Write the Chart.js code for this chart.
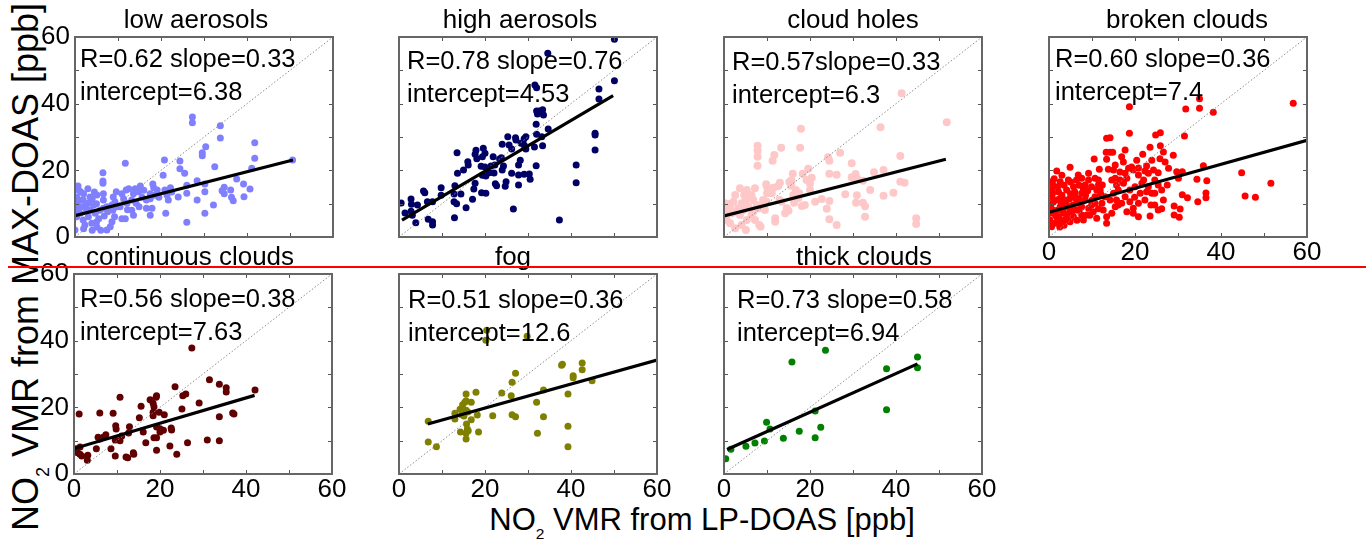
<!DOCTYPE html>
<html>
<head>
<meta charset="utf-8">
<script src="https://cdn.jsdelivr.net/npm/chart.js@4.4.1/dist/chart.umd.min.js"></script>
<style>
  body { margin: 0; background: #fff; width: 1370px; height: 548px; overflow: hidden; position: relative;
         font-family: "Liberation Sans", Arial, sans-serif; }
  canvas { position: absolute; }
  .axlab { position: absolute; white-space: nowrap; line-height: 1; color: #000; }
  .axlab .sub { position: relative; font-size: 0.5em; }
  #ylab { left: 26px; top: 267px; font-size: 36px; transform: translate(-50%, -50%) rotate(-90deg); }
  #ylab .sub { top: 11px; }
  #xlab { left: 702px; top: 504px; font-size: 31px; transform: translateX(-50%); }
  #xlab .sub { top: 9px; }
  #redline { position: absolute; left: 8px; top: 266px; width: 1358px; height: 2px; background: #f00; z-index: 5; }
</style>
</head>
<body>
<div id="ylab" class="axlab">NO<span class="sub">2</span> VMR from MAX-DOAS [ppb]</div>
<div id="xlab" class="axlab">NO<span class="sub">2</span> VMR from LP-DOAS [ppb]</div>
<div id="redline"></div>
<script>
// scatter points [LP-DOAS, MAX-DOAS] in ppb
const lowAerosols = [[27.3,36.0],[27.3,34.3],[33.8,33.4],[33.8,29.7],[41.8,28.3],[41.8,23.6],[50.6,23.1],[30.4,27.1],[29.6,25.3],[29.6,24.4],[32.5,21.1],[24.4,22.8],[24.4,20.5],[25.5,19.1],[20.8,23.1],[20.5,18.5],[11.7,22.1],[6.5,19.3],[6.5,16.8],[6.5,16.1],[0.7,15.3],[1.3,13.6],[5.1,12.6],[28.4,16.9],[30.2,15.9],[30.2,13.6],[26.0,15.5],[26.0,13.1],[28.4,11.1],[30.2,7.1],[26.0,4.4],[32.2,9.6],[34.7,14.9],[34.2,13.9],[34.7,13.0],[36.2,14.1],[36.4,11.9],[36.8,10.9],[37.6,17.4],[39.2,15.9],[39.3,12.1],[40.7,14.4],[41.1,20.6],[22.2,14.8],[21.4,12.6],[21.7,11.1],[21.1,7.1],[20.9,14.1],[19.1,14.1],[19.5,11.9],[18.1,15.9],[18.3,14.8],[17.5,13.0],[17.5,11.5],[16.6,11.1],[17.9,8.6],[15.2,15.3],[14.8,13.6],[15.6,11.9],[13.6,13.0],[13.2,11.1],[14.2,10.1],[14.9,9.1],[16.6,8.6],[17.5,6.5],[13.2,8.0],[13.6,6.5],[11.9,14.1],[10.9,13.0],[11.3,11.5],[12.1,10.1],[12.2,8.2],[11.7,5.5],[9.6,13.6],[8.9,12.0],[9.3,10.6],[9.7,9.1],[8.8,8.0],[9.2,6.1],[8.6,4.6],[8.2,3.1],[7.4,2.1],[6.6,13.0],[6.6,11.1],[6.6,8.6],[6.8,6.3],[5.8,8.0],[5.5,5.5],[5.1,3.0],[4.3,9.5],[4.7,7.1],[3.9,4.1],[3.5,12.0],[3.1,10.1],[2.7,8.0],[3.1,6.1],[1.9,11.1],[1.5,9.1],[1.2,7.1],[1.9,5.1],[2.3,3.6],[0.4,12.0],[0.4,10.1],[0.2,8.0],[0.4,6.1],[0.0,2.1],[0.8,14.1],[3.5,8.0],[7.4,9.1],[7.6,7.6],[10.5,9.1],[10.9,5.5],[8.6,9.6],[2.0,13.0],[1.0,11.0],[2.5,9.5],[4.0,11.5],[5.0,10.0],[0.5,9.0],[4.5,13.5],[3.0,14.5],[2.0,2.5],[4.0,2.0],[6.0,2.0],[5.0,4.5],[12.5,14.5],[14.0,14.5],[16.0,14.0],[18.5,12.5],[22.5,13.5],[24.0,12.0]];
const highAerosols = [[50.1,59.3],[34.6,55.1],[50.1,46.9],[46.5,44.4],[46.5,41.4],[31.6,45.6],[32.0,44.8],[32.0,37.8],[32.6,37.8],[33.4,38.2],[32.2,36.9],[33.6,36.6],[31.9,33.8],[34.7,32.4],[32.0,30.8],[33.2,30.1],[33.4,27.4],[31.5,27.0],[25.3,30.1],[27.1,29.8],[29.1,29.5],[29.5,30.1],[24.0,27.8],[25.6,27.6],[26.2,26.4],[29.1,27.6],[29.5,26.4],[27.2,29.1],[28.4,28.1],[45.6,31.1],[45.6,30.6],[45.6,26.1],[41.2,21.6],[41.2,16.3],[37.3,5.1],[30.5,17.3],[31.9,21.4],[27.8,21.6],[28.2,23.0],[27.8,18.6],[27.8,15.6],[26.2,19.1],[26.6,8.4],[24.9,16.6],[24.7,15.2],[24.0,20.1],[24.3,21.3],[23.8,23.8],[22.3,21.6],[22.1,19.2],[22.4,16.0],[22.7,15.4],[21.9,24.1],[23.4,23.4],[21.4,21.3],[21.0,19.3],[19.6,26.6],[20.0,25.1],[19.4,24.1],[17.9,26.0],[17.7,24.8],[18.1,23.5],[20.0,21.0],[19.1,21.2],[19.4,18.5],[20.2,18.3],[17.7,16.1],[17.4,14.4],[19.2,13.3],[20.2,13.1],[16.0,22.6],[16.1,21.6],[15.0,20.1],[13.5,25.3],[13.6,19.1],[13.0,15.4],[12.8,12.9],[12.8,10.6],[13.4,10.0],[14.4,12.9],[17.1,11.3],[15.6,8.8],[12.9,5.8],[9.8,14.8],[9.8,12.5],[7.8,10.6],[5.7,13.8],[6.0,13.3],[6.6,10.6],[6.8,5.3],[7.8,4.6],[7.8,3.6],[4.3,9.6],[3.9,4.3],[2.8,11.4],[2.9,9.8],[2.8,7.7],[3.1,6.5],[1.4,7.2],[0.5,10.2],[30.3,18.9],[29.1,18.8]];
const cloudHoles = [[51.8,34.4],[36.4,32.9],[17.9,32.5],[41.3,43.1],[17.7,26.8],[7.8,27.4],[7.8,25.9],[7.8,24.1],[7.8,21.4],[13.3,26.8],[11.7,24.6],[11.3,22.9],[27.0,25.3],[24.2,23.9],[24.5,22.9],[29.7,22.1],[41.0,24.3],[34.9,19.4],[37.1,20.1],[30.6,18.9],[29.7,17.9],[30.9,17.6],[32.3,16.9],[24.5,19.0],[26.2,18.7],[41.0,16.6],[42.0,16.3],[34.0,14.1],[37.1,12.4],[39.4,13.3],[28.2,12.8],[30.9,12.5],[30.7,10.3],[32.3,10.3],[32.8,9.2],[32.8,6.1],[23.9,8.5],[24.5,5.3],[26.2,3.6],[44.7,5.6],[44.7,3.9],[22.7,11.4],[24.5,10.8],[21.2,10.6],[18.8,9.6],[18.1,9.3],[16.3,10.3],[20.0,14.1],[19.2,17.1],[20.4,17.8],[20.0,16.0],[18.3,19.0],[19.6,20.5],[16.0,19.0],[15.7,17.0],[15.6,15.4],[15.2,16.5],[16.7,14.1],[17.5,13.1],[17.3,11.6],[16.1,12.6],[13.0,16.3],[12.6,15.3],[12.9,11.1],[13.4,10.6],[14.6,8.6],[15.0,7.9],[14.2,7.1],[11.9,5.6],[11.9,4.6],[9.8,15.8],[10.0,15.0],[11.5,14.8],[11.1,13.1],[9.1,11.1],[9.3,9.6],[9.9,10.6],[9.5,8.1],[7.2,14.6],[6.4,12.6],[6.8,11.1],[7.6,9.6],[8.2,8.6],[6.4,6.6],[7.2,5.1],[8.2,3.6],[8.5,3.1],[5.3,14.1],[4.7,12.6],[5.1,11.1],[4.1,10.1],[5.7,9.1],[4.5,8.1],[3.7,6.6],[5.3,5.1],[5.1,2.1],[4.1,3.6],[2.6,12.6],[2.2,10.6],[3.3,8.6],[2.8,7.6],[1.4,9.1],[1.8,7.1],[0.6,5.1],[1.4,4.1],[2.6,2.6],[0.2,10.1],[0.2,8.1],[0.4,6.3],[1.3,9.9],[8.4,9.1],[10.0,13.1],[6.8,7.6],[3.7,14.6]];
const brokenClouds = [[56.8,40.1],[18.7,39.1],[31.8,38.4],[35.0,38.6],[38.2,37.4],[35.0,41.5],[31.5,30.3],[18.7,31.1],[13.4,29.6],[14.2,29.8],[24.8,30.6],[25.9,31.3],[25.9,27.4],[23.5,26.9],[17.7,26.1],[13.3,25.4],[14.2,25.4],[14.8,25.4],[21.8,24.8],[26.6,25.5],[28.9,24.5],[10.5,23.4],[13.4,23.3],[17.3,22.5],[20.4,23.0],[23.9,23.0],[25.8,23.5],[27.0,22.5],[35.9,21.4],[4.9,20.9],[1.8,19.8],[11.7,20.3],[13.8,20.3],[15.0,20.1],[16.5,19.5],[19.2,21.0],[20.8,20.7],[22.3,19.8],[24.3,20.1],[25.4,19.3],[27.8,20.6],[29.7,19.6],[31.0,19.6],[44.8,19.3],[34.4,17.3],[36.7,16.9],[51.6,16.1],[45.6,12.3],[48.0,11.9],[34.6,10.6],[36.5,11.8],[36.5,13.2],[31.0,12.7],[32.2,11.8],[29.1,9.3],[30.5,8.4],[29.1,6.6],[30.3,5.9],[26.6,11.1],[26.2,8.5],[27.5,15.6],[23.5,6.3],[23.7,9.6],[23.9,13.1],[23.1,15.1],[21.6,16.1],[22.3,11.1],[19.6,8.6],[19.9,11.9],[20.0,15.1],[18.8,14.1],[20.8,10.1],[21.2,13.1],[17.7,12.1],[16.9,10.1],[18.1,7.6],[16.1,14.1],[17.3,16.1],[15.0,13.1],[14.2,11.1],[15.4,9.1],[14.6,7.1],[15.7,15.6],[14.6,17.1],[13.4,4.1],[13.4,6.1],[12.6,8.1],[12.3,10.1],[13.0,12.1],[11.9,14.1],[11.5,17.1],[12.4,15.6],[11.1,14.1],[10.7,12.1],[9.9,9.6],[10.3,7.6],[11.1,5.6],[9.0,13.9],[8.4,11.1],[7.6,9.1],[8.8,6.6],[8.0,5.1],[6.8,18.6],[6.4,17.1],[5.7,15.1],[6.1,12.1],[6.8,10.1],[6.4,8.1],[5.7,6.1],[4.9,4.6],[4.5,17.1],[4.1,14.1],[3.7,11.1],[4.5,9.1],[3.3,7.1],[4.1,5.6],[2.9,4.1],[2.6,16.6],[2.2,13.6],[1.8,11.1],[2.6,9.1],[1.4,7.6],[2.2,6.1],[1.4,4.1],[0.6,3.1],[0.6,14.1],[0.6,12.1],[0.4,9.6],[0.2,7.1],[0.2,5.1],[1.0,15.6],[9.2,19.1],[7.6,17.6],[17.7,19.1],[18.1,17.6],[16.5,17.1],[17.3,16.6],[11.5,15.6],[15.4,17.6],[10.7,17.6],[9.2,17.1],[8.4,15.6],[9.9,15.1],[7.6,13.1],[22.0,17.1],[25.4,15.6],[22.7,13.6],[24.6,13.1],[26.2,14.1],[19.6,20.1],[20.8,18.6],[18.5,20.6],[3.7,5.1],[2.6,5.1],[5.3,7.6],[7.6,6.6],[9.2,8.6],[3.3,8.6],[6.4,11.1],[10.7,10.1],[30.1,17.6],[15.7,11.1],[18.8,10.6],[16.1,9.6],[19.6,7.1],[20.8,6.1],[24.6,9.6],[25.4,8.1],[16.9,24.1],[15.4,21.6],[22.7,21.3],[24.6,17.1],[23.1,19.1],[1.0,10.5],[2.0,8.0],[3.0,12.5],[4.0,10.0],[5.0,13.0],[1.5,6.5],[3.5,3.5],[5.5,9.5],[7.0,11.5],[8.0,14.5],[0.5,8.5],[2.5,11.5],[1.2,17.5],[3.0,18.5],[0.4,16.5],[2.0,15.0],[3.5,15.5],[5.0,16.5],[7.0,15.5],[0.8,13.0],[2.8,10.5],[4.8,11.5],[6.0,13.5],[8.5,12.5],[1.0,8.0],[3.0,9.5],[5.0,8.0],[7.0,8.0],[1.8,6.0],[4.2,7.0],[6.5,5.0],[0.5,4.0],[2.5,3.0],[10.0,11.0],[12.0,13.0],[9.5,6.5],[11.5,8.5]];
const continuousClouds = [[27.4,37.8],[31.5,28.3],[33.8,26.9],[35.4,25.9],[35.4,24.6],[42.1,25.2],[23.5,26.2],[25.3,23.5],[26.0,24.0],[29.1,21.3],[25.1,19.5],[33.8,17.2],[36.9,18.3],[37.2,18.0],[31.0,10.2],[33.8,10.0],[26.4,9.4],[23.9,5.9],[22.6,13.8],[22.7,13.2],[22.3,8.4],[19.1,23.0],[19.2,23.5],[17.7,22.3],[18.4,21.2],[18.6,20.2],[19.8,18.5],[21.0,17.8],[18.4,18.5],[18.4,17.5],[15.6,20.3],[15.2,16.9],[19.2,14.1],[20.0,13.6],[20.8,13.1],[20.0,12.6],[19.2,10.9],[19.2,7.1],[18.6,10.9],[16.1,12.6],[16.7,9.4],[12.9,14.2],[12.7,12.3],[10.7,23.0],[9.1,18.2],[6.0,18.3],[1.2,18.0],[9.7,14.5],[9.8,13.5],[9.6,10.2],[10.7,10.0],[11.1,11.4],[9.6,5.4],[8.6,7.6],[7.4,11.8],[5.6,11.0],[6.8,11.0],[6.0,10.5],[5.2,7.6],[12.1,5.1],[12.5,4.9],[13.8,6.4],[13.9,5.9],[3.2,5.6],[3.1,4.1],[1.8,5.4],[0.8,6.4],[1.4,5.9],[0.5,7.6],[1.4,8.1],[0.3,6.9]];
const fog = [[20.4,43.1],[20.2,40.1],[29.8,41.3],[37.8,32.6],[38.0,32.9],[42.6,33.3],[42.6,31.3],[40.5,29.5],[40.5,28.9],[44.9,28.0],[27.1,30.2],[26.3,27.5],[33.6,25.2],[39.3,24.0],[23.9,24.3],[26.1,23.5],[32.0,21.5],[26.3,17.8],[27.1,17.2],[33.6,17.2],[21.8,17.5],[39.3,14.3],[32.2,12.2],[39.3,8.2],[17.9,24.5],[15.6,24.0],[15.6,22.0],[15.3,21.5],[16.8,21.5],[14.8,20.8],[14.2,19.4],[15.6,19.1],[16.0,18.6],[13.0,18.2],[13.0,16.5],[14.6,17.8],[15.1,17.4],[18.2,17.7],[16.8,16.3],[15.7,15.0],[15.9,13.5],[16.1,13.0],[15.6,12.2],[14.3,12.6],[18.5,12.6],[15.6,10.5],[6.8,15.8],[6.8,9.6],[8.7,8.2]];
const thickClouds = [[23.6,37.1],[15.8,33.6],[45.0,35.1],[45.0,31.9],[37.8,31.6],[37.8,19.3],[21.2,18.9],[9.9,15.5],[10.7,13.5],[22.5,14.0],[17.5,12.8],[21.2,10.9],[13.8,10.7],[9.4,9.9],[7.2,9.3],[5.1,8.3],[1.6,7.4],[0.4,4.6]];

const titles = ['low aerosols', 'high aerosols', 'cloud holes', 'broken clouds', 'continuous clouds', 'fog', 'thick clouds'];
const series = [lowAerosols, highAerosols, cloudHoles, brokenClouds, continuousClouds, fog, thickClouds];
const colors = ['#8080ff', '#000066', '#ffc8c8', '#ff0000', '#600000', '#808000', '#008000'];
const slopes = [0.33, 0.76, 0.33, 0.36, 0.38, 0.36, 0.58];
const intercepts = [6.38, 4.53, 6.3, 7.4, 7.63, 12.6, 6.94];
const fitFrom = [0, 0.7, 0, 0, 0, 6.7, 0.7];
const fitTo = [50.7, 49.8, 51.6, 60, 42, 60, 45];
const statLine1 = ['R=0.62 slope=0.33', 'R=0.78 slope=0.76', 'R=0.57slope=0.33', 'R=0.60 slope=0.36', 'R=0.56 slope=0.38', 'R=0.51 slope=0.36', 'R=0.73 slope=0.58'];
const statLine2 = ['intercept=6.38', 'intercept=4.53', 'intercept=6.3', 'intercept=7.4', 'intercept=7.63', 'intercept=12.6', 'intercept=6.94'];
const axisTicks = [0, 20, 40, 60];

// layout: plot area corner of each panel, text nudges
const plotLeft = [75, 399, 724, 1049, 74, 399, 724];
const plotTop = [37, 37, 37, 37, 274, 274, 274];
const showYTicks = [true, false, false, false, true, false, false];
const showXTicks = [false, false, false, true, true, true, true];
const textDx = [5, 8, 8, 6, 6, 9, 13];
const textDy = [30, 32, 33, 30, 33, 34, 34];
const titleDx = [-8, -8, 0, 9, -13, -15, 11];

const FONT = '"Liberation Sans", Arial, sans-serif';
Chart.defaults.font.family = FONT;
Chart.defaults.color = '#000';

const panelDecor = {
  id: 'panelDecor',
  afterDatasetsDraw(chart, args, o) {
    const { ctx, chartArea: a, scales } = chart;
    ctx.save();
    // inward ticks on all four sides
    ctx.strokeStyle = '#555';
    ctx.lineWidth = 1;
    ctx.beginPath();
    for (let v = 10; v < 60; v += 10) {
      const px = Math.round(scales.x.getPixelForValue(v)) + 0.5;
      const py = Math.round(scales.y.getPixelForValue(v)) + 0.5;
      ctx.moveTo(px, a.bottom); ctx.lineTo(px, a.bottom - 4);
      ctx.moveTo(px, a.top); ctx.lineTo(px, a.top + 4);
      ctx.moveTo(a.left, py); ctx.lineTo(a.left + 4, py);
      ctx.moveTo(a.right, py); ctx.lineTo(a.right - 4, py);
    }
    ctx.stroke();
    ctx.strokeStyle = '#666';
    ctx.lineWidth = 2;
    ctx.strokeRect(a.left, a.top, a.right - a.left, a.bottom - a.top);

    ctx.fillStyle = '#000';
    ctx.textBaseline = 'alphabetic';
    ctx.font = '25.5px ' + FONT;
    ctx.textAlign = 'left';
    ctx.fillText(o.line1, a.left + o.dx, a.top + o.dy);
    ctx.fillText(o.line2, a.left + o.dx, a.top + o.dy + 33);
    ctx.font = '26px ' + FONT;
    ctx.textAlign = 'center';
    ctx.fillText(o.title, (a.left + a.right) / 2 + o.tdx, a.top - 9);
    ctx.restore();
  }
};

const PAD_L = 60, PAD_T = 36, PAD_R = 20, PAD_B = 40, PW = 258, PH = 200;

series.forEach((pts, i) => {
  const cv = document.createElement('canvas');
  cv.width = PAD_L + PW + PAD_R;
  cv.height = PAD_T + PH + PAD_B;
  cv.style.left = (plotLeft[i] - PAD_L) + 'px';
  cv.style.top = (plotTop[i] - PAD_T) + 'px';
  document.body.appendChild(cv);

  const fit = [fitFrom[i], fitTo[i]].map(x => ({ x: x, y: intercepts[i] + slopes[i] * x }));

  new Chart(cv, {
    type: 'scatter',
    data: {
      datasets: [
        { data: fit, showLine: true, borderColor: '#000', borderWidth: 3.2, pointRadius: 0, order: 0 },
        { data: [{ x: 0, y: 0 }, { x: 60, y: 60 }], showLine: true, borderColor: '#8c8c8c',
          borderWidth: 1, borderDash: [1.5, 2], pointRadius: 0, order: 1 },
        { data: pts.map(p => ({ x: p[0], y: p[1] })), backgroundColor: colors[i], borderWidth: 0,
          pointRadius: i === 2 ? 4 : 3.5, order: 2 }
      ]
    },
    options: {
      responsive: false,
      animation: false,
      devicePixelRatio: 1,
      events: [],
      layout: { padding: { left: 0, top: PAD_T, right: PAD_R, bottom: 0 } },
      plugins: {
        legend: { display: false },
        tooltip: { enabled: false },
        panelDecor: { title: titles[i], line1: statLine1[i], line2: statLine2[i],
                      dx: textDx[i], dy: textDy[i], tdx: titleDx[i] }
      },
      scales: {
        x: {
          type: 'linear', min: 0, max: 60,
          afterBuildTicks: s => { s.ticks = axisTicks.map(v => ({ value: v })); },
          ticks: { display: showXTicks[i], font: { size: 26 }, color: '#000', padding: 0, maxRotation: 0 },
          grid: { display: false, drawTicks: false },
          border: { display: false },
          afterFit: s => { s.height = PAD_B; }
        },
        y: {
          type: 'linear', min: 0, max: 60,
          afterBuildTicks: s => { s.ticks = axisTicks.map(v => ({ value: v })); },
          ticks: { display: showYTicks[i], font: { size: 26 }, color: '#000', padding: 5 },
          grid: { display: false, drawTicks: false },
          border: { display: false },
          afterFit: s => { s.width = PAD_L; }
        }
      }
    },
    plugins: [panelDecor]
  });
});
</script>
</body>
</html>
